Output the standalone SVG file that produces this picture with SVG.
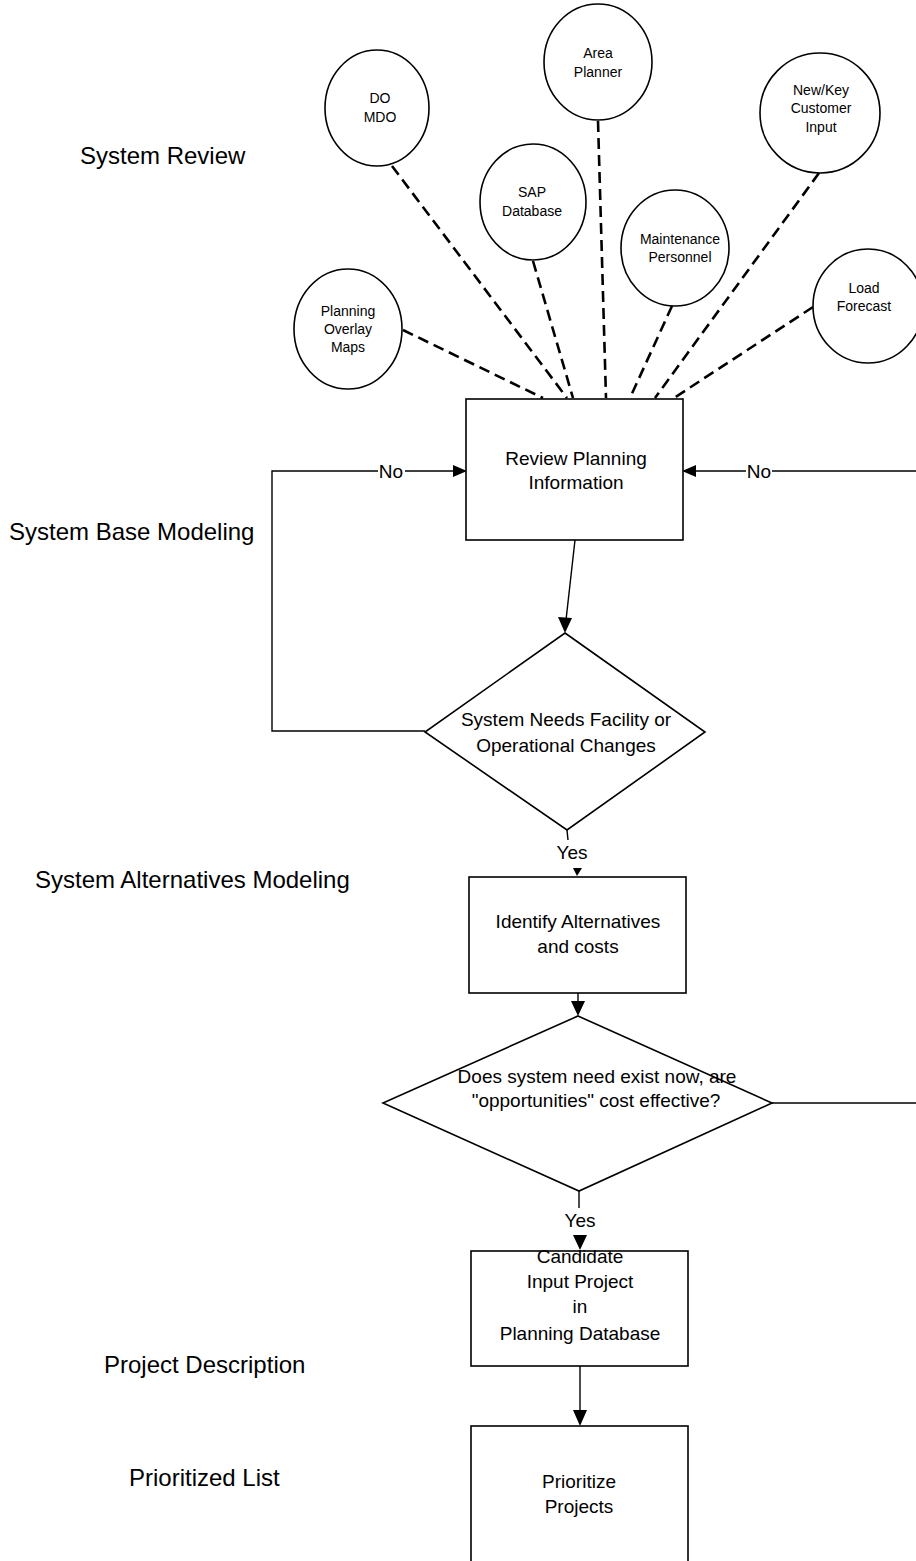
<svg xmlns="http://www.w3.org/2000/svg" width="916" height="1561" viewBox="0 0 916 1561">
<style>
.lbl{font-family:"Liberation Sans",Arial,sans-serif;font-size:24px;fill:#000}
.bt{font-family:"Liberation Sans",Arial,sans-serif;font-size:19px;fill:#000;text-anchor:middle}
.ct{font-family:"Liberation Sans",Arial,sans-serif;font-size:14px;fill:#000;text-anchor:middle}
.node{fill:#fff;stroke:#000;stroke-width:1.6}
.dash{stroke:#000;stroke-width:2.6;stroke-dasharray:11 6;fill:none}
.ln{stroke:#000;stroke-width:1.4;fill:none}
.ah{fill:#000}
</style>
<rect width="916" height="1561" fill="#fff"/>

<g id="labels">
<text class="lbl" x="80" y="164">System Review</text>
<text class="lbl" x="9" y="540">System Base Modeling</text>
<text class="lbl" x="35" y="888">System Alternatives Modeling</text>
<text class="lbl" x="104" y="1373">Project Description</text>
<text class="lbl" x="129" y="1486">Prioritized List</text>
</g>

<g id="connectors">
<line class="dash" x1="403" y1="330" x2="543" y2="398"/>
<line class="dash" x1="392" y1="166" x2="567" y2="398"/>
<line class="dash" x1="533" y1="261" x2="573" y2="398"/>
<line class="dash" x1="598" y1="121" x2="606" y2="398"/>
<line class="dash" x1="672" y1="306" x2="630" y2="398"/>
<line class="dash" x1="819" y1="173" x2="655" y2="398"/>
<line class="dash" x1="813" y1="307" x2="674" y2="398"/>

<polyline class="ln" points="425,731 272,731 272,471 378,471"/>
<line class="ln" x1="405" y1="471" x2="455" y2="471"/>
<polygon class="ah" points="467,471 453,465 453,477"/>
<text class="bt" x="391" y="478">No</text>

<line class="ln" x1="916" y1="471" x2="772" y2="471"/>
<line class="ln" x1="746" y1="471" x2="694" y2="471"/>
<polygon class="ah" points="682,471 696,465 696,477"/>
<text class="bt" x="759" y="478">No</text>

<line class="ln" x1="575" y1="540" x2="566" y2="620"/>
<polygon class="ah" points="565,633 558,617 572,618"/>

<line class="ln" x1="567" y1="830" x2="568" y2="840"/>
<text class="bt" x="572" y="859">Yes</text>
<polygon class="ah" points="577,876 573,868 582,868"/>

<line class="ln" x1="578" y1="993" x2="578" y2="1003"/>
<polygon class="ah" points="578,1016 571,1001 585,1001"/>

<line class="ln" x1="772" y1="1103" x2="916" y2="1103"/>

<line class="ln" x1="579" y1="1191" x2="579" y2="1208"/>
<text class="bt" x="580" y="1227">Yes</text>
<polygon class="ah" points="580,1250 573,1235 587,1235"/>

<line class="ln" x1="580" y1="1366" x2="580" y2="1412"/>
<polygon class="ah" points="580,1426 573,1410 587,1410"/>
</g>

<g id="n-planning">
<ellipse class="node" cx="348" cy="329" rx="54" ry="60"/>
<text class="ct" x="348" y="316">Planning</text>
<text class="ct" x="348" y="334">Overlay</text>
<text class="ct" x="348" y="352">Maps</text>
</g>
<g id="n-domdo">
<ellipse class="node" cx="377" cy="108" rx="52" ry="58"/>
<text class="ct" x="380" y="103">DO</text>
<text class="ct" x="380" y="122">MDO</text>
</g>
<g id="n-area">
<ellipse class="node" cx="598" cy="62" rx="54" ry="58"/>
<text class="ct" x="598" y="58">Area</text>
<text class="ct" x="598" y="77">Planner</text>
</g>
<g id="n-sap">
<ellipse class="node" cx="533" cy="202" rx="53" ry="58"/>
<text class="ct" x="532" y="197">SAP</text>
<text class="ct" x="532" y="216">Database</text>
</g>
<g id="n-maint">
<ellipse class="node" cx="675" cy="248" rx="54" ry="58"/>
<text class="ct" x="680" y="244">Maintenance</text>
<text class="ct" x="680" y="262">Personnel</text>
</g>
<g id="n-newkey">
<ellipse class="node" cx="820" cy="113" rx="60" ry="60"/>
<text class="ct" x="821" y="95">New/Key</text>
<text class="ct" x="821" y="113">Customer</text>
<text class="ct" x="821" y="132">Input</text>
</g>
<g id="n-load">
<ellipse class="node" cx="868" cy="306" rx="55" ry="57"/>
<text class="ct" x="864" y="293">Load</text>
<text class="ct" x="864" y="311">Forecast</text>
</g>

<g id="n-review">
<rect class="node" x="466" y="399" width="217" height="141"/>
<text class="bt" x="576" y="465">Review Planning</text>
<text class="bt" x="576" y="489">Information</text>
</g>
<g id="n-decision1">
<polygon class="node" points="565,633 705,732 567,830 425,732"/>
<text class="bt" x="566" y="726">System Needs Facility or</text>
<text class="bt" x="566" y="752">Operational Changes</text>
</g>
<g id="n-identify">
<rect class="node" x="469" y="877" width="217" height="116"/>
<text class="bt" x="578" y="928">Identify Alternatives</text>
<text class="bt" x="578" y="953">and costs</text>
</g>
<g id="n-decision2">
<polygon class="node" points="578,1016 772,1103 579,1191 383,1103"/>
<text class="bt" x="597" y="1083">Does system need exist now, are</text>
<text class="bt" x="596" y="1107">"opportunities" cost effective?</text>
</g>
<g id="n-candidate">
<rect class="node" x="471" y="1251" width="217" height="115"/>
<text class="bt" x="580" y="1263">Candidate</text>
<text class="bt" x="580" y="1288">Input Project</text>
<text class="bt" x="580" y="1313">in</text>
<text class="bt" x="580" y="1340">Planning Database</text>
</g>
<g id="n-prioritize">
<rect class="node" x="471" y="1426" width="217" height="145"/>
<text class="bt" x="579" y="1488">Prioritize</text>
<text class="bt" x="579" y="1513">Projects</text>
</g>
</svg>
